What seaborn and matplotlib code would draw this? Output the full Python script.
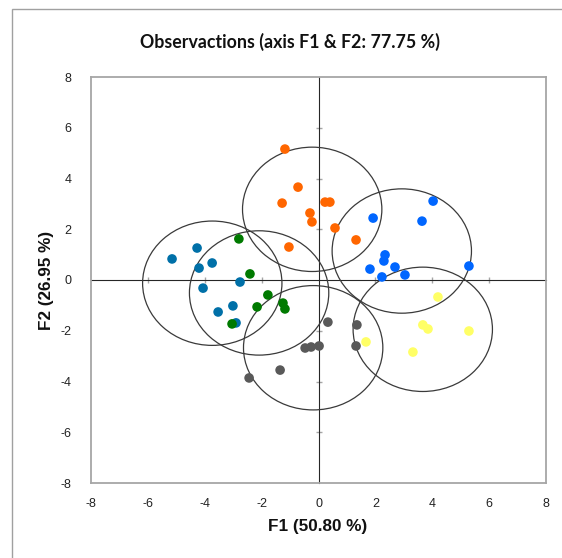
import pandas as pd
import seaborn as sns
import matplotlib.pyplot as plt
from matplotlib.patches import Circle, Rectangle

orange_x = [-1.18, -0.72, -1.28, -0.30, -0.23, 0.23, 0.40, 0.58, -1.04, 1.32]
orange_y = [5.16, 3.66, 3.03, 2.64, 2.29, 3.07, 3.07, 2.05, 1.30, 1.58]

blue_x = [4.03, 3.64, 1.92, 2.34, 2.30, 1.81, 2.23, 2.69, 3.04, 5.29]
blue_y = [3.11, 2.32, 2.44, 0.99, 0.75, 0.43, 0.12, 0.51, 0.20, 0.55]

teal_x = [-5.15, -4.27, -4.20, -3.74, -4.06, -2.76, -3.53, -3.01, -2.90]
teal_y = [0.83, 1.26, 0.47, 0.67, -0.32, -0.08, -1.26, -1.02, -1.69]

green_x = [-2.80, -2.41, -1.78, -2.16, -1.25, -1.18, -3.04]
green_y = [1.62, 0.24, -0.59, -1.06, -0.91, -1.14, -1.73]

gray_x = [0.33, 1.35, 1.32, -0.47, -0.26, 0.02, -1.35, -2.44]
gray_y = [-1.66, -1.77, -2.60, -2.68, -2.64, -2.60, -3.55, -3.86]

yellow_x = [4.20, 3.67, 3.85, 5.29, 1.67, 3.32]
yellow_y = [-0.67, -1.77, -1.93, -2.01, -2.44, -2.84]

groups = {
    'orange': (orange_x, orange_y),
    'blue': (blue_x, blue_y),
    'teal': (teal_x, teal_y),
    'green': (green_x, green_y),
    'gray': (gray_x, gray_y),
    'yellow': (yellow_x, yellow_y),
}
palette = {
    'orange': '#FF6600',
    'blue': '#0066FF',
    'teal': '#0070A8',
    'green': '#007A00',
    'gray': '#595959',
    'yellow': '#FFFF66',
}
circle_radius = 2.45
ticks = [-8, -6, -4, -2, 0, 2, 4, 6, 8]
inner_ticks = [-6, -4, -2, 2, 4, 6]

rows = []
for name, (xs, ys) in groups.items():
    for x, y in zip(xs, ys):
        rows.append({'F1': x, 'F2': y, 'group': name})
df = pd.DataFrame(rows)

sns.set_style('white')
plt.rcParams['font.family'] = ['Liberation Sans', 'DejaVu Sans']
plt.rcParams['axes.unicode_minus'] = False

fig = plt.figure(figsize=(5.62, 5.58), dpi=100)
ax = fig.add_axes([91 / 562, 1 - 483 / 558, 455 / 562, 406 / 558])

grid_col = '#A6A6A6'

# outer chart frame (cropped on the right and bottom in the reference)
fig.patches.append(Rectangle((12 / 562, -0.05), 1.0, 1 - 9 / 558 + 0.05,
                             transform=fig.transFigure, fill=False,
                             edgecolor='#A0A0A0', lw=1.0))

sns.scatterplot(data=df, x='F1', y='F2', hue='group', palette=palette,
                s=48, edgecolor='none', legend=False, ax=ax, zorder=3)

# confidence circles around each group centroid
centers = df.groupby('group')[['F1', 'F2']].mean()
for name, row in centers.iterrows():
    ax.add_patch(Circle((row['F1'], row['F2']), circle_radius, fill=False,
                        edgecolor='#3A3A3A', lw=0.9, zorder=2))

ax.set_xlim(-8, 8)
ax.set_ylim(-8, 8)
ax.set_xticks(ticks)
ax.set_yticks(ticks)
ax.tick_params(length=0, labelsize=9, colors='#222222', pad=11)
ax.tick_params(axis='y', pad=14)
for sp in ax.spines.values():
    sp.set_color(grid_col)
    sp.set_linewidth(1.3)

# center axes with crossing ticks
sx = ax.secondary_xaxis(0.5)
sx.set_xticks(inner_ticks)
sx.set_xticklabels([])
sx.tick_params(direction='inout', length=5, width=1.0, color=grid_col)
sx.spines['bottom'].set_color(grid_col)
sx.spines['bottom'].set_linewidth(1.3)
sy = ax.secondary_yaxis(0.5)
sy.set_yticks(inner_ticks)
sy.set_yticklabels([])
sy.tick_params(direction='inout', length=5, width=1.0, color=grid_col)
sy.spines['left'].set_color(grid_col)
sy.spines['left'].set_linewidth(1.3)

ax.set_xlabel('')
ax.set_ylabel('')
fig.text(318 / 562, 1 - 527 / 558, 'F1 (50.80 %)', ha='center', va='center',
         fontsize=12.3, fontweight='bold', color='#111111')
fig.text(47 / 562, 1 - 280 / 558, 'F2 (26.95 %)', ha='center', va='center',
         rotation=90, fontsize=12.3, fontweight='bold', color='#111111')
fig.text(290 / 562, 1 - 42 / 558, 'Observactions (axis F1 & F2: 77.75 %)',
         ha='center', va='center', fontsize=12.8, fontweight='bold',
         family=['Lato', 'DejaVu Sans'], color='#111111')

fig.savefig('out.png', dpi=100)
